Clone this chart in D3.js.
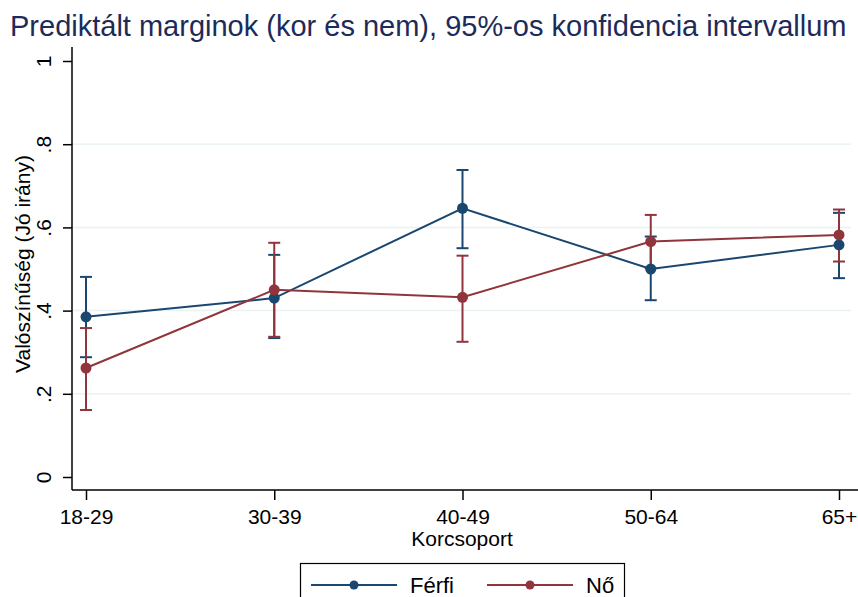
<!DOCTYPE html>
<html>
<head>
<meta charset="utf-8">
<script src="https://cdnjs.cloudflare.com/ajax/libs/d3/7.8.5/d3.min.js"></script>
<style>
  body { margin: 0; background: #fff; }
  svg { display: block; font-family: "Liberation Sans", Arial, sans-serif; }
</style>
</head>
<body>
<svg id="chart" width="858" height="597"></svg>
<script>
// data
const ageGroups = ["18-29", "30-39", "40-49", "50-64", "65+"];
const yTicks = [0, 0.2, 0.4, 0.6, 0.8, 1];
const yTickLabels = ["0", ".2", ".4", ".6", ".8", "1"];

const ferfiMargin = [0.385, 0.430, 0.646, 0.500, 0.558];
const ferfiLower  = [0.288, 0.334, 0.550, 0.425, 0.478];
const ferfiUpper  = [0.481, 0.534, 0.738, 0.578, 0.635];

const noMargin = [0.262, 0.450, 0.432, 0.566, 0.582];
const noLower  = [0.161, 0.337, 0.325, 0.502, 0.518];
const noUpper  = [0.358, 0.563, 0.532, 0.630, 0.643];

const seriesNames = ["Férfi", "Nő"];
const seriesColors = ["#1a476f", "#90353b"];

// general variables
const svg = d3.select("svg#chart");
const plotLeft = 72, plotBottom = 490, plotTop = 47, plotRight = 858;

const x = d3.scalePoint().domain(ageGroups).range([86, 839]);
const y = d3.scaleLinear().domain([0, 1]).range([477, 61]);

const series = [
  { name: seriesNames[0], color: seriesColors[0], m: ferfiMargin, lo: ferfiLower, hi: ferfiUpper },
  { name: seriesNames[1], color: seriesColors[1], m: noMargin, lo: noLower, hi: noUpper }
];

// title
svg.append("text")
  .attr("x", 10).attr("y", 36)
  .attr("font-size", 29)
  .attr("fill", "#1c2b5a")
  .text("Prediktált marginok (kor és nem), 95%-os konfidencia intervallum");

// gridlines
svg.append("g").selectAll("line")
  .data(yTicks.filter(d => d > 0 && d < 1))
  .join("line")
  .attr("x1", plotLeft).attr("x2", 851)
  .attr("y1", d => y(d)).attr("y2", d => y(d))
  .attr("stroke", "#eaf2f3")
  .attr("stroke-width", 1.5);

// y axis
const yAxis = svg.append("g")
  .attr("transform", `translate(${plotLeft},0)`)
  .call(d3.axisLeft(y).tickValues(yTicks).tickFormat((d, i) => yTickLabels[i]).tickSize(9).tickSizeOuter(0));
yAxis.select(".domain").remove();
yAxis.selectAll(".tick line").attr("stroke", "#000").attr("stroke-width", 1.5);
yAxis.selectAll(".tick text")
  .attr("x", null).attr("dy", null)
  .attr("transform", "translate(-21,0) rotate(-90)")
  .attr("text-anchor", "middle")
  .attr("font-size", 21)
  .attr("fill", "#000");

// x axis
const xAxis = svg.append("g")
  .attr("transform", `translate(0,${plotBottom})`)
  .call(d3.axisBottom(x).tickSize(10).tickSizeOuter(0));
xAxis.select(".domain").remove();
xAxis.selectAll(".tick line").attr("stroke", "#000").attr("stroke-width", 1.5);
xAxis.selectAll(".tick text")
  .attr("y", 34).attr("dy", null)
  .attr("font-size", 21)
  .attr("fill", "#000");

// axis lines
svg.append("line").attr("x1", plotLeft).attr("x2", plotLeft).attr("y1", plotTop).attr("y2", plotBottom)
  .attr("stroke", "#000").attr("stroke-width", 1.5);
svg.append("line").attr("x1", plotLeft).attr("x2", plotRight).attr("y1", plotBottom).attr("y2", plotBottom)
  .attr("stroke", "#000").attr("stroke-width", 1.5);

// axis titles
svg.append("text")
  .attr("transform", "translate(30,264) rotate(-90)")
  .attr("text-anchor", "middle")
  .attr("font-size", 21)
  .text("Valószínűség (Jó irány)");
svg.append("text")
  .attr("x", 462).attr("y", 546)
  .attr("text-anchor", "middle")
  .attr("font-size", 21)
  .text("Korcsoport");

// confidence intervals
const capHalf = 6;
series.forEach(s => {
  const g = svg.append("g").attr("stroke", s.color).attr("stroke-width", 2);
  ageGroups.forEach((a, i) => {
    g.append("line").attr("x1", x(a)).attr("x2", x(a)).attr("y1", y(s.lo[i])).attr("y2", y(s.hi[i]));
    g.append("line").attr("x1", x(a) - capHalf).attr("x2", x(a) + capHalf).attr("y1", y(s.lo[i])).attr("y2", y(s.lo[i]));
    g.append("line").attr("x1", x(a) - capHalf).attr("x2", x(a) + capHalf).attr("y1", y(s.hi[i])).attr("y2", y(s.hi[i]));
  });
});

// lines and markers
const line = d3.line().x((d, i) => x(ageGroups[i])).y(d => y(d));
series.forEach(s => {
  svg.append("path")
    .attr("d", line(s.m))
    .attr("fill", "none")
    .attr("stroke", s.color)
    .attr("stroke-width", 2);
  svg.append("g").selectAll("circle")
    .data(s.m)
    .join("circle")
    .attr("cx", (d, i) => x(ageGroups[i]))
    .attr("cy", d => y(d))
    .attr("r", 5.5)
    .attr("fill", s.color);
});

// legend
const legend = svg.append("g");
legend.append("rect")
  .attr("x", 300.5).attr("y", 563.5)
  .attr("width", 324).attr("height", 50)
  .attr("fill", "#fff").attr("stroke", "#000").attr("stroke-width", 1.2);
const legendX = [311, 487];
series.forEach((s, i) => {
  const lx = legendX[i];
  legend.append("line").attr("x1", lx).attr("x2", lx + 86).attr("y1", 585).attr("y2", 585)
    .attr("stroke", s.color).attr("stroke-width", 2);
  legend.append("circle").attr("cx", lx + 43).attr("cy", 585).attr("r", 4.5).attr("fill", s.color);
  legend.append("text").attr("x", lx + 99).attr("y", 593)
    .attr("font-size", 22).text(s.name);
});
</script>
</body>
</html>
